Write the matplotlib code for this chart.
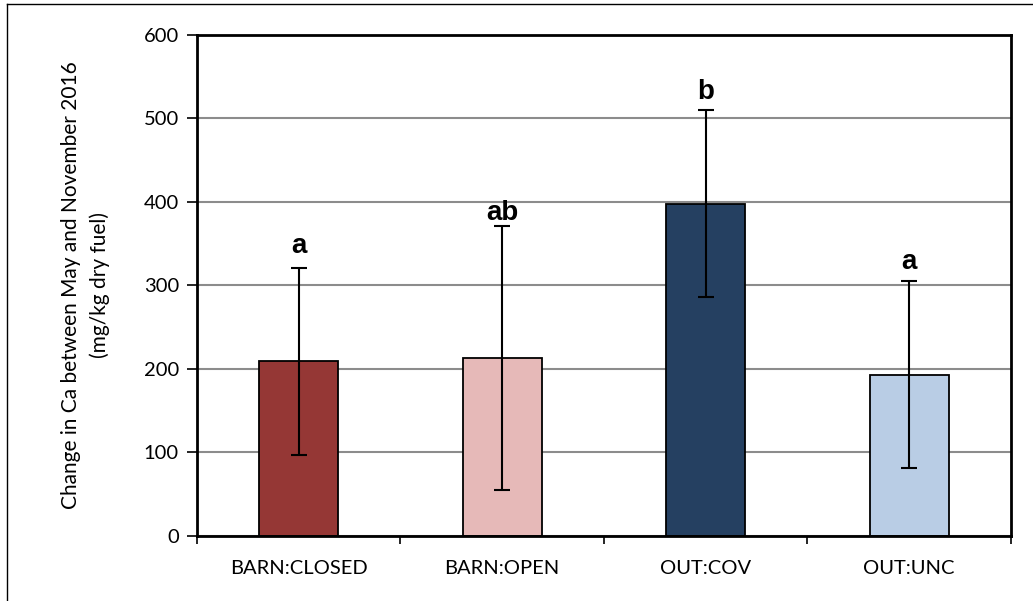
import matplotlib.pyplot as plt
from matplotlib.lines import Line2D

# data
groups = ["BARN:CLOSED", "BARN:OPEN", "OUT:COV", "OUT:UNC"]
means = [209, 213, 398, 193]
errs = [112, 158, 112, 112]
letters = ["a", "ab", "b", "a"]
letter_y = [339, 378, 523, 320]
colors = ["#953735", "#E6B9B8", "#254061", "#B9CDE5"]

fig = plt.figure(figsize=(10.33, 6.01), dpi=100)
ax = fig.add_axes([0.1907, 0.1082, 0.7880, 0.8336])

x = list(range(len(groups)))
ax.bar(x, means, width=0.39, color=colors, edgecolor="black", linewidth=1.3, zorder=2)
ax.errorbar(x, means, yerr=errs, fmt="none", ecolor="black", elinewidth=1.5,
            capsize=5.5, capthick=1.5, zorder=3)

for xi, lab, ly in zip(x, letters, letter_y):
    ax.text(xi, ly, lab, ha="center", va="baseline", fontsize=20,
            fontweight="bold", family="Liberation Sans")

ax.set_xlim(-0.5, len(groups) - 0.5)
ax.set_ylim(0, 600)
ax.set_yticks(range(0, 601, 100))
ax.yaxis.grid(True, color="#8C8C8C", linewidth=1.5, zorder=0)
ax.set_axisbelow(True)

ax.set_xticks(x)
ax.set_xticklabels(groups, family="Lato", fontsize=14.5)
ax.set_xticks([i - 0.5 for i in range(len(groups) + 1)], minor=True)
ax.tick_params(axis="x", which="major", length=0, pad=17)
ax.tick_params(axis="x", which="minor", length=6, width=1.2, direction="out")
ax.tick_params(axis="y", length=7, width=1.2, direction="out", labelsize=14.5, pad=6)
for t in ax.get_yticklabels():
    t.set_family("Lato")

for s in ax.spines.values():
    s.set_color("black")
    s.set_linewidth(2)

ax.set_ylabel("Change in Ca between May and November 2016\n(mg/kg dry fuel)",
              family="Lato", fontsize=15, labelpad=24, linespacing=1.5)

# outer chart frame (top and left edges visible)
fig.add_artist(Line2D([7 / 1033, 1], [1 - 4 / 601, 1 - 4 / 601], color="black", linewidth=1))
fig.add_artist(Line2D([7 / 1033, 7 / 1033], [0, 1 - 4 / 601], color="black", linewidth=1))

fig.savefig("out.png", dpi=100)
